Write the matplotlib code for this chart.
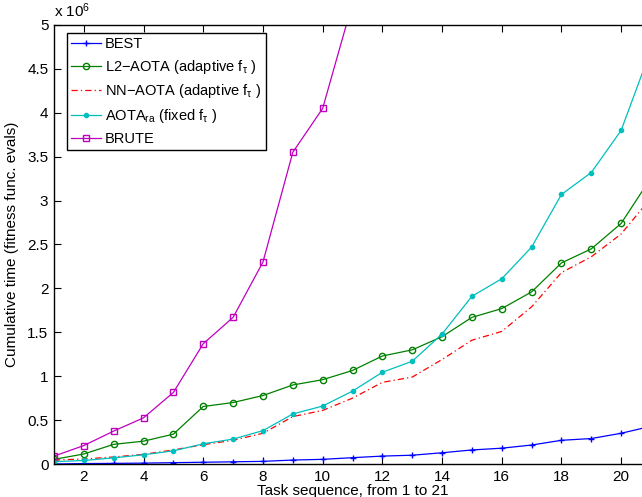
import matplotlib
matplotlib.use('Agg')
import matplotlib.pyplot as plt
from matplotlib.ticker import FuncFormatter

plt.rcParams['font.family'] = ['Liberation Sans', 'DejaVu Sans']
plt.rcParams['mathtext.default'] = 'regular'

# task index 1..21, cumulative time in units of 1e6 fitness evals
tasks = list(range(1, 22))
best = [0.0, 0.005, 0.007, 0.01, 0.015, 0.02, 0.025, 0.03, 0.045, 0.053, 0.072,
        0.09, 0.10, 0.128, 0.16, 0.18, 0.216, 0.27, 0.29, 0.35, 0.43]
l2_aota = [0.053, 0.114, 0.224, 0.26, 0.34, 0.655, 0.70, 0.78, 0.90, 0.96, 1.065,
           1.23, 1.30, 1.45, 1.67, 1.77, 1.96, 2.29, 2.45, 2.74, 3.26]
nn_aota = [0.045, 0.057, 0.08, 0.11, 0.16, 0.22, 0.27, 0.35, 0.54, 0.61, 0.75,
           0.93, 0.99, 1.19, 1.41, 1.51, 1.79, 2.18, 2.36, 2.62, 3.03]
aota_ra = [0.026, 0.04, 0.07, 0.105, 0.15, 0.23, 0.284, 0.38, 0.57, 0.66, 0.83,
           1.045, 1.17, 1.48, 1.91, 2.11, 2.47, 3.07, 3.32, 3.80, 4.72]
brute_tasks = tasks[:11]
brute = [0.09, 0.21, 0.375, 0.526, 0.815, 1.37, 1.67, 2.30, 3.55, 4.05, 5.25]

labels = ['BEST',
          r'L2$-$AOTA (adaptive f$_{\tau}$ )',
          r'NN$-$AOTA (adaptive f$_{\tau}$ )',
          r'AOTA$_{ra}$ (fixed f$_{\tau}$ )',
          'BRUTE']

fig = plt.figure(figsize=(6.42, 4.97), dpi=100)
ax = fig.add_axes([54 / 642, 33 / 497, 597 / 642, 439 / 497])

lw = 0.9
ax.plot(tasks, best, color='b', marker='+', ms=5, lw=lw, label=labels[0])
ax.plot(tasks, l2_aota, color=(0, 0.5, 0), marker='o', ms=4.5, mfc='none',
        lw=lw, label=labels[1])
ax.plot(tasks, nn_aota, color='r', ls=(0, (5, 2.5, 1, 2.5)), lw=lw, label=labels[2])
ax.plot(tasks, aota_ra, color=(0, 0.75, 0.75), marker='.', ms=6, lw=lw,
        label=labels[3])
ax.plot(brute_tasks, brute, color=(0.75, 0, 0.75), marker='s', ms=4, mfc='none',
        lw=lw, label=labels[4])

ax.set_xlim(1, 21)
ax.set_ylim(0, 5)
ax.set_xticks(range(2, 21, 2))
ax.set_yticks([i * 0.5 for i in range(11)])
ax.yaxis.set_major_formatter(FuncFormatter(lambda v, p: f'{v:g}'))
ax.tick_params(direction='in', top=True, right=True, labelsize=11, length=5,
               width=0.8, pad=4)
for s in ax.spines.values():
    s.set_linewidth(1.0)

ax.set_xlabel('Task sequence, from 1 to 21', fontsize=11, labelpad=0)
ax.set_ylabel('Cumulative time (fitness func. evals)', fontsize=11, labelpad=6)
ax.text(0.0, 1.012, r'x 10$^6$', transform=ax.transAxes, fontsize=11,
        ha='left', va='bottom')

leg = ax.legend(loc='upper left', bbox_to_anchor=((67 - 54) / 597, (464 - 33) / 439),
                borderaxespad=0, fontsize=10.5, fancybox=False, framealpha=1,
                edgecolor='k', handlelength=2.0, handletextpad=0.3,
                labelspacing=0.45, borderpad=0.3)
leg.get_frame().set_linewidth(1.0)

fig.savefig('out.png', dpi=100)
